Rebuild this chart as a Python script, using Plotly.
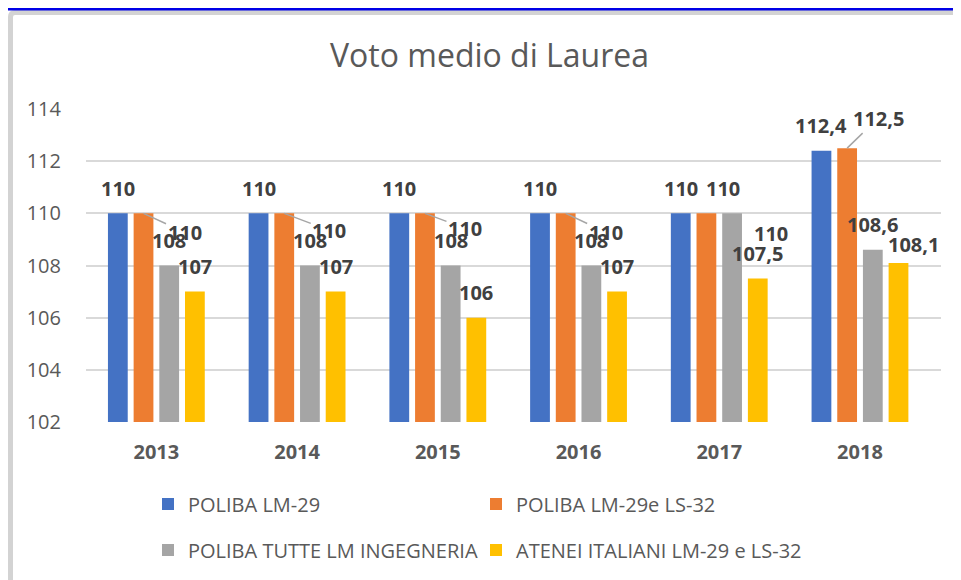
import plotly.graph_objects as go

# ---- data ----
years = ["2013", "2014", "2015", "2016", "2017", "2018"]
poliba_lm29 = [110, 110, 110, 110, 110, 112.4]
poliba_lm29_ls32 = [110, 110, 110, 110, 110, 112.5]
poliba_tutte = [108, 108, 108, 108, 110, 108.6]
atenei_italiani = [107, 107, 106, 107, 107.5, 108.1]

series_names = [
    "POLIBA LM-29",
    "POLIBA LM-29e LS-32",
    "POLIBA TUTTE LM INGEGNERIA",
    "ATENEI ITALIANI LM-29 e LS-32",
]
series_values = [poliba_lm29, poliba_lm29_ls32, poliba_tutte, atenei_italiani]
colors = ["#4472C4", "#ED7D31", "#A5A5A5", "#FFC000"]

# label placement tweaks (pixels): (series, year) -> (dx, dy, leader)
label_moves = {
    (1, 0): (41, 19, True),
    (1, 1): (45, 17, True),
    (1, 2): (40, 15, True),
    (1, 3): (40, 19, True),
    (1, 4): (17, -25, False),
    (2, 4): (39, 20, False),
    (1, 5): (31, -30, True),
    (3, 5): (15, -18, False),
}

W, H = 961, 580
L, R, T, B = 78, 28, 101, 166
BARGAP = 0.27
n = len(series_names)

fig = go.Figure()
for j, (name, vals, col) in enumerate(zip(series_names, series_values, colors)):
    fig.add_trace(go.Bar(
        x=years, y=vals, name=name, marker=dict(color=col, line=dict(width=0)),
        legend="legend" if j < 2 else "legend2", hoverinfo="skip",
    ))

def fmt(v):
    return f"{v:g}".replace(".", ",")

slot = (1 - BARGAP) / n
annotations = []
label_font = dict(family="Open Sans", size=20, color="#404040", weight="bold")
for j, vals in enumerate(series_values):
    for i, v in enumerate(vals):
        xpos = i + (j - (n - 1) / 2) * slot
        dx, dy, leader = label_moves.get((j, i), (0, -25, False))
        txt = "<b>" + fmt(v) + "</b>"
        if leader:
            annotations.append(dict(
                x=xpos, y=v, xref="x", yref="y", text=txt, font=label_font,
                showarrow=True, ax=dx, ay=dy, arrowhead=0, arrowwidth=1.5,
                arrowcolor="#A6A6A6", standoff=0, startstandoff=0,
            ))
        else:
            annotations.append(dict(
                x=xpos, y=v, xref="x", yref="y", text=txt, font=label_font,
                showarrow=False, xshift=dx, yshift=-dy,
                xanchor="center", yanchor="middle",
            ))

def px(xp):
    return (xp - L) / (W - L - R)

def py(yp):
    return (H - B - yp) / (H - T - B)

shapes = [
    dict(type="path", xref="paper", yref="paper",
         path=(f"M {px(2.5)},{py(H + 10)} L {px(2.5)},{py(9)} "
               f"Q {px(2.5)},{py(4.5)} {px(7)},{py(4.5)} L {px(W + 10)},{py(4.5)}"),
         line=dict(color="#D3D3D3", width=5), layer="above"),
    dict(type="rect", xref="paper", yref="paper", x0=px(-5), x1=px(W + 5),
         y0=py(2.5), y1=py(-2), fillcolor="#0000E6", line=dict(width=0), layer="above"),
]

leg_font = dict(family="Open Sans", size=20, color="#595959")

fig.update_layout(
    width=W, height=H,
    margin=dict(l=L, r=R, t=T, b=B),
    paper_bgcolor="white", plot_bgcolor="white",
    barmode="group", bargap=BARGAP, bargroupgap=0.23,
    title=dict(text="Voto medio di Laurea", x=481.5 / W, xref="container", xanchor="center",
               y=1 - 48 / H, yref="container", yanchor="middle",
               font=dict(family="Open Sans", size=32, color="#595959")),
    xaxis=dict(type="category", showgrid=False, showline=False, zeroline=False,
               tickfont=dict(family="Open Sans", size=20, color="#595959", weight="bold"),
               ticklabelstandoff=16),
    yaxis=dict(range=[102, 114], dtick=2, tick0=102, showgrid=True, gridcolor="#D9D9D9",
               gridwidth=1.5, zeroline=False, showline=False,
               tickfont=dict(family="Open Sans", size=20, color="#595959"),
               ticklabelstandoff=24),
    legend=dict(orientation="h", xref="container", yref="container",
                x=140 / W, y=1 - 496 / H, xanchor="left", yanchor="middle",
                entrywidth=283, font=leg_font, bgcolor="rgba(0,0,0,0)"),
    legend2=dict(orientation="h", xref="container", yref="container",
                 x=140 / W, y=1 - 542 / H, xanchor="left", yanchor="middle",
                 entrywidth=283, font=leg_font, bgcolor="rgba(0,0,0,0)"),
    annotations=annotations,
    shapes=shapes,
    showlegend=True,
)

fig.write_html("out.html")
